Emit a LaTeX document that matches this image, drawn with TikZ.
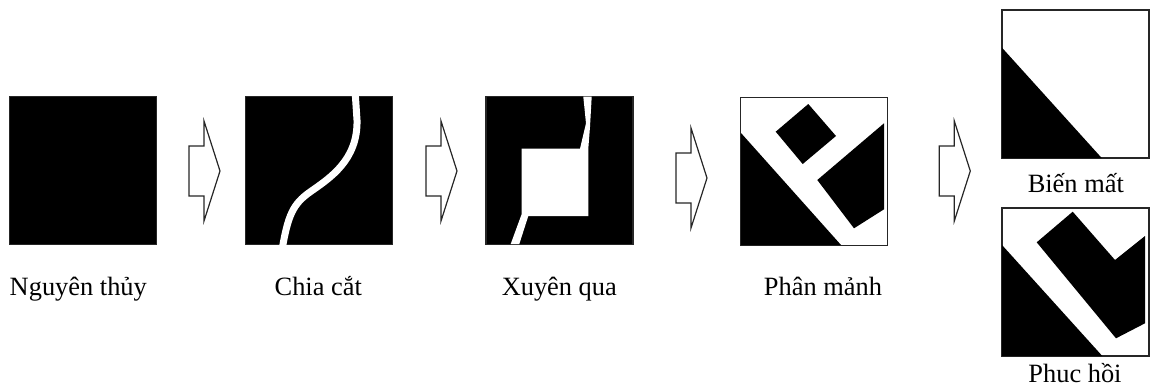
\documentclass[tikz,border=0pt]{standalone}
\usepackage{fontspec}
\setmainfont{Liberation Serif}
\usetikzlibrary{calc}

\begin{document}
\begin{tikzpicture}[x=0.5pt,y=-0.5pt,
  panel/.style={draw=black!85,line width=.6pt,fill=white,minimum width=73.5pt,minimum height=74pt,inner sep=0pt,outer sep=0pt},
  solidpanel/.style={panel,fill=black},
  stagecap/.style={anchor=base,inner sep=0pt,font=\fontsize{13.2}{15}\selectfont},
  blockarrow/.pic={\draw[line width=.6pt,draw=black!85,fill=white,line join=miter]
    (-15,-25) -- (0,-25) -- (0,-50) -- (16,0) -- (0,50) -- (0,25) -- (-15,25) -- cycle;}]
\useasboundingbox (0,0) rectangle (1151,387);
% panels
\node[solidpanel] (orig) at (83,170.5) {};
\node[solidpanel] (split) at (319,170.5) {};
\node[solidpanel] (pierce) at (559.5,170.5) {};
\node[panel] (frag) at (814,171.5) {};
\node[panel] (gone) at (1075.5,84) {};
\node[panel] (heal) at (1075.5,282) {};
% white cut through the second panel
\begin{scope}
\clip (split.south west) rectangle (split.north east);
\draw[white,line width=3.5pt] (355,90) -- (357,120) .. controls (358,160) and (330,178) .. (310,192)
  .. controls (293,204) and (288,215) .. (282,250);
\end{scope}
% hole with cracks in the third panel
\fill[white] (583.3,96.7) -- (586,123.3) -- (580,148.7) -- (521.7,148.7) -- (521.7,214) -- (510.7,244)
  -- (519.3,244) -- (528.3,216) -- (588.3,216) -- (588.3,148.7) -- (590,126.7) -- (591.7,96.7) -- cycle;
% fragments
\fill (741,133) -- (741,245) -- (841,245) -- cycle;
\fill (808.3,104) -- (836,136) -- (802.7,164) -- (775.7,131.7) -- cycle;
\fill (817.3,180) -- (884,123.3) -- (884,209.3) -- (854,228.3) -- cycle;
\fill (1002,47.7) -- (1002,158) -- (1101.7,158) -- cycle;
\fill (1002,245) -- (1002,356) -- (1102.3,356) -- cycle;
\fill (1036.7,242.3) -- (1072.7,211.7) -- (1115,260) -- (1145,236) -- (1145,323.3) -- (1116,338.3) -- cycle;
% arrows between stages
\pic at (204,171) {blockarrow};
\pic at (441,171) {blockarrow};
\pic at (691,178) {blockarrow};
\pic at (954.3,171) {blockarrow};
% captions
\node[stagecap] (origcap) at (78.3,295) {Nguyên thủy};
\node[stagecap] (splitcap) at (318.3,295) {Chia cắt};
\node[stagecap] (piercecap) at (559.3,295) {Xuyên qua};
\node[stagecap] (fragcap) at (823,295) {Phân mảnh};
\node[stagecap] (gonecap) at (1075.8,192) {Biến mất};
\node[stagecap] (healcap) at (1075,382) {Phuc hồi};
\end{tikzpicture}
\end{document}
